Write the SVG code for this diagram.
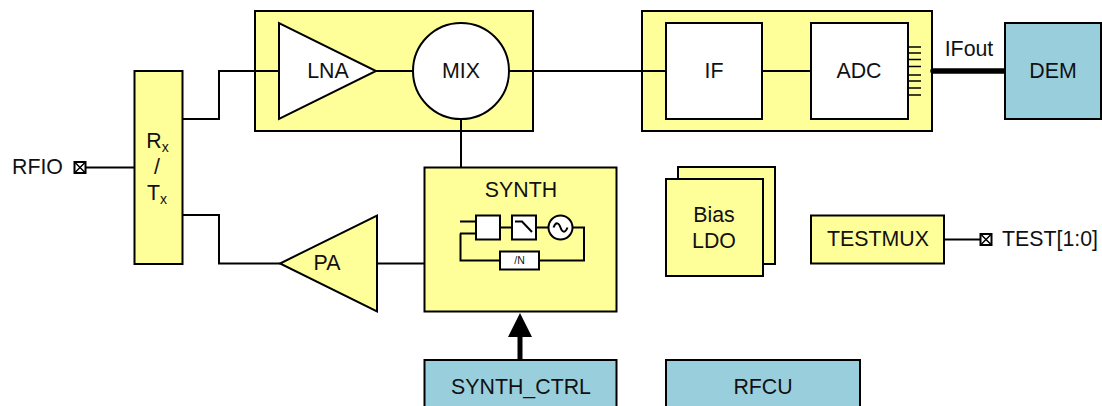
<svg xmlns="http://www.w3.org/2000/svg" width="1102" height="406" viewBox="0 0 1102 406">
<style>
text{font-family:"Liberation Sans",Arial,sans-serif;font-size:21.330px;fill:#111;text-anchor:middle}
.y{fill:#ffff99;stroke:#000;stroke-width:2}
.w{fill:#fff;stroke:#000;stroke-width:2}
.b{fill:#99cfdc;stroke:#000;stroke-width:2}
.l{fill:none;stroke:#000;stroke-width:2}
.sub{font-size:14px}
.s{text-anchor:start}
</style>
<defs>
<g id="pin"><rect x="-5.500" y="-5.500" width="11" height="11" fill="#fff" stroke="#000" stroke-width="2"/><path d="M-5 -5L5 5M5 -5L-5 5" stroke="#000" stroke-width="1.500"/></g>
</defs>
<g id="frontend"><rect class="y" x="255" y="11" width="278" height="120"/></g>
<g id="backend"><rect class="y" x="642" y="11" width="290" height="120"/></g>
<g id="connectors">
<path class="l" d="M86 167.500H135"/>
<path class="l" d="M182 119H219V71H279"/>
<path class="l" d="M182 215H219V263.500H280"/>
<path class="l" d="M376 71H413"/>
<path class="l" d="M509 71H666"/>
<path class="l" d="M461 119V167"/>
<path class="l" d="M377 263.500H425"/>
<path class="l" d="M762 71H811"/>
<path class="l" d="M944 239.500H980"/>
<path d="M933 71H1005" fill="none" stroke="#000" stroke-width="5.500" stroke-linecap="round"/>
<path d="M520 360V335" fill="none" stroke="#000" stroke-width="5" stroke-linecap="round"/>
<path d="M520 313L532 337H508Z" fill="#000"/>
</g>
<g id="rfio"><text class="s" x="12" y="174">RFIO</text><use href="#pin" x="80" y="167.500"/></g>
<g id="rxtx"><rect class="y" x="134.500" y="71" width="48" height="193"/>
<text x="157.500" y="148">R<tspan class="sub" dy="4">x</tspan></text><text x="157" y="174">/</text><text x="157" y="200">T<tspan class="sub" dy="4">x</tspan></text></g>
<g id="lna"><path class="w" d="M279 23V119L376 71Z"/><text x="328" y="78">LNA</text></g>
<g id="mix"><circle class="w" cx="461" cy="71" r="48"/><text x="461" y="78">MIX</text></g>
<g id="if"><rect class="w" x="666" y="23" width="96" height="96"/><text x="714" y="78">IF</text></g>
<g id="adc"><rect class="w" x="811" y="23" width="97" height="96"/><text x="859" y="78">ADC</text>
<path d="M908 47H921M908 53H921M908 59.500H921M908 66.500H921M908 75H921M908 81H921M908 88H921M908 95H921" fill="none" stroke="#000" stroke-width="1.500"/></g>
<g id="ifout"><text x="969" y="56">IFout</text></g>
<g id="dem"><rect class="b" x="1005" y="23" width="96" height="96"/><text x="1053" y="78">DEM</text></g>
<g id="pa"><path class="y" d="M377 215.500V311.500L280 263.500Z"/><text x="327" y="270">PA</text></g>
<g id="synth"><rect class="y" x="424.500" y="167.500" width="192" height="144"/><text x="521" y="197">SYNTH</text>
<path class="l" d="M460 221.500H476M460 233.500H476M460.500 233.500V260.500H500M539 260.500H584V227.500H573M500 227.500H512M536 227.500H548"/>
<rect class="w" x="476" y="215.500" width="24" height="24"/>
<rect class="w" x="512" y="215.500" width="24" height="24"/>
<path class="l" d="M515 221.500H522L532 232"/>
<circle class="w" cx="560.500" cy="227.500" r="12"/>
<path class="l" d="M553.500 227.500C556 221 559 223 560.500 227.500C562 232 565 234 567.500 227.500"/>
<rect class="w" x="500" y="251.500" width="39" height="18"/>
<text x="519.500" y="264" style="font-size:10.500px">/N</text></g>
<g id="biasldo"><rect class="y" x="678" y="167" width="97" height="97"/><rect class="y" x="666" y="179" width="97" height="97"/><text x="714" y="221.500">Bias</text><text x="714" y="247.500">LDO</text></g>
<g id="testmux"><rect class="y" x="811" y="215.500" width="133" height="48"/><text x="878" y="246">TESTMUX</text></g>
<g id="test"><use href="#pin" x="986" y="239.500"/><text class="s" x="1002" y="246">TEST[1:0]</text></g>
<g id="synthctrl"><rect class="b" x="424.500" y="360" width="192" height="50"/><text x="521" y="394">SYNTH_CTRL</text></g>
<g id="rfcu"><rect class="b" x="666" y="360" width="194" height="50"/><text x="763" y="394">RFCU</text></g>
</svg>
